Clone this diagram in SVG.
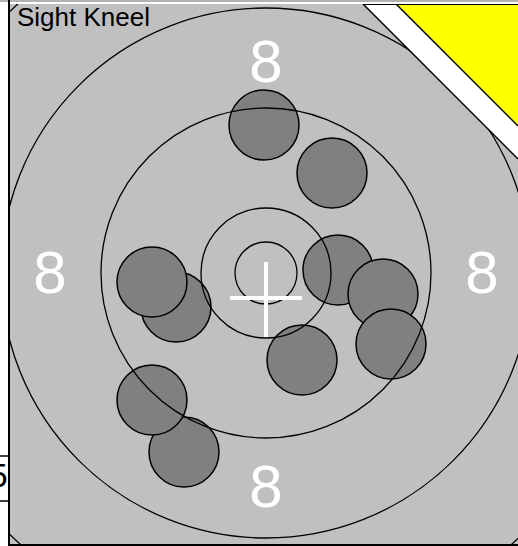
<svg xmlns="http://www.w3.org/2000/svg" width="518" height="546" viewBox="0 0 518 546">
<style>
.ring{fill:none;stroke:#000;stroke-width:1.3}
.shot{fill:#808080;stroke:#000;stroke-width:1.5}
.score{fill:#fff;font-family:"Liberation Sans",Arial,sans-serif;font-size:60px;text-anchor:middle}
.edge{stroke:#000;stroke-width:1.5}
</style>
<defs>
<clipPath id="frame"><rect x="10" y="4" width="508" height="540"/></clipPath>
</defs>
<rect x="0" y="0" width="518" height="546" fill="#fff"/>
<line x1="0" y1="1" x2="518" y2="1" stroke="#666" stroke-width="1.2"/>
<g id="table">
<line x1="0" y1="456" x2="9" y2="456" class="edge"/>
<line x1="0" y1="501" x2="9" y2="501" class="edge"/>
<text x="7.5" y="487" font-family="Liberation Sans,Arial,sans-serif" font-size="33" text-anchor="end" fill="#000">5</text>
</g>
<g clip-path="url(#frame)">
<rect id="target" x="10" y="4" width="508" height="540" fill="#c0c0c0"/>
<g id="shots">
<circle class="shot" cx="264" cy="125" r="35"/>
<circle class="shot" cx="332" cy="173" r="35"/>
<circle class="shot" cx="176" cy="307" r="35"/>
<circle class="shot" cx="152" cy="282" r="35"/>
<circle class="shot" cx="338" cy="270" r="35"/>
<circle class="shot" cx="383" cy="294" r="35"/>
<circle class="shot" cx="391" cy="344" r="35"/>
<circle class="shot" cx="302" cy="360" r="35"/>
<circle class="shot" cx="184" cy="452" r="35"/>
<circle class="shot" cx="152" cy="400" r="35"/>
</g>
<g id="rings">
<circle class="ring" cx="266" cy="273" r="31"/>
<circle class="ring" cx="266" cy="273" r="65"/>
<circle class="ring" cx="266" cy="273" r="165"/>
<circle class="ring" cx="266" cy="273" r="265"/>
<circle class="ring" cx="266" cy="273" r="366"/>
</g>
<g id="corner">
<polygon points="363,4 396,4 518,126 518,159" fill="#fff"/>
<polygon points="396,4 518,4 518,126" fill="#ff0"/>
<line x1="363" y1="4" x2="518" y2="159" class="edge" stroke-width="1.2"/>
<line x1="396" y1="4" x2="518" y2="126" class="edge" stroke-width="1.2"/>
<line x1="363" y1="4.5" x2="518" y2="4.5" stroke="#000" stroke-width="1"/>
</g>
<g id="cross" stroke="#fff" stroke-width="4">
<line x1="230" y1="298" x2="302" y2="298"/>
<line x1="266" y1="262" x2="266" y2="337"/>
</g>
<g id="scores">
<text class="score" x="266" y="82">8</text>
<text class="score" x="50" y="293">8</text>
<text class="score" x="482" y="293">8</text>
<text class="score" x="266" y="507">8</text>
</g>
<text id="title" x="17" y="26" font-family="Liberation Sans,Arial,sans-serif" font-size="26" fill="#000">Sight Kneel</text>
</g>
<line x1="9" y1="0" x2="9" y2="546" stroke="#000" stroke-width="2"/>
<line x1="9" y1="545" x2="518" y2="545" stroke="#000" stroke-width="2"/>
</svg>
